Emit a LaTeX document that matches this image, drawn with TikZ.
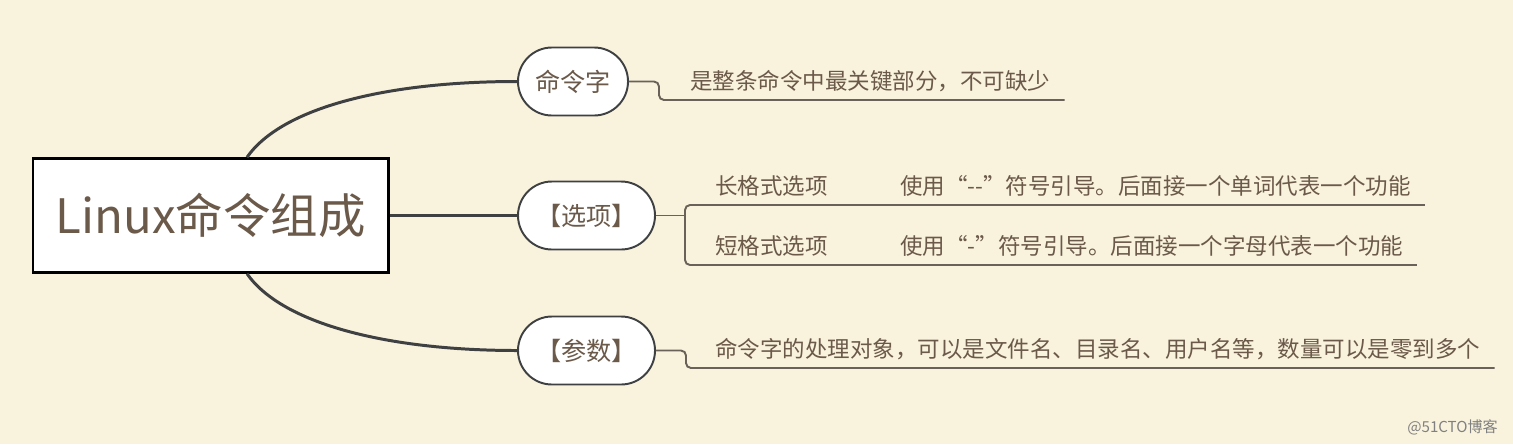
\documentclass[tikz,border=0pt]{standalone}
\usepackage{fontspec}
\setmainfont{Noto Sans CJK SC}
\usepackage{tikz}
\usetikzlibrary{positioning,calc}
\definecolor{paper}{RGB}{249,243,221}
\definecolor{txt}{RGB}{107,89,73}
\definecolor{branchc}{RGB}{62,64,66}
\definecolor{leafc}{RGB}{106,98,88}
\tikzstyle{root} = [draw=black,line width=1.7pt,fill=white,text=txt,minimum width=7.1cm,minimum height=2.27cm,font=\fontsize{27}{32}\selectfont]
\tikzstyle{pill} = [draw=branchc,line width=1.1pt,fill=white,text=txt,rounded corners=0.68cm,minimum height=1.36cm,font=\fontsize{14.3}{17}\selectfont]
\tikzstyle{desc} = [text=txt,anchor=south west,inner xsep=0.28cm,inner ysep=0.16cm,font=\fontsize{12.8}{15}\selectfont]
\tikzstyle{branch} = [draw=branchc,line width=1.7pt]
\tikzstyle{leaf} = [draw=leafc,line width=1.1pt,rounded corners=0.1cm]

\begin{document}
\begin{tikzpicture}
	\fill[paper] (0,0) rectangle (30.26,-8.88);
	\useasboundingbox (0,0) rectangle (30.26,-8.88);
	\node[root] (root) at (4.21,-4.31) {Linux命令组成};
	\node[pill,minimum width=2.2cm] (cmd) at (11.46,-1.63) {命令字};
	\node[pill,minimum width=2.74cm] (opt) at (11.73,-4.31) {【选项】};
	\node[pill,minimum width=2.74cm] (par) at (11.73,-7.01) {【参数】};
	\draw[branch] ([xshift=0.73cm]root.north) .. controls +(0.7,1.0) and +(-2.6,0) .. (cmd.west);
	\draw[branch] (root.east) -- (opt.west);
	\draw[branch] ([xshift=0.73cm]root.south) .. controls +(0.7,-1.0) and +(-2.6,0) .. (par.west);
	% 命令字
	\node[desc] (d1) at (13.52,-2.0) {是整条命令中最关键部分，不可缺少};
	\draw[leaf] (cmd.east) -- ++(0.6,0) |- (d1.south east);
	% 选项
	\node[desc,inner xsep=0.6cm] (lopt) at (13.7,-4.1) {长格式选项};
	\node[desc,inner xsep=0.6cm] (sopt) at (13.7,-5.3) {短格式选项};
	\node[desc] (ldesc) at (17.72,-4.1) {使用“-{}-”符号引导。后面接一个单词代表一个功能};
	\node[desc] (sdesc) at (17.72,-5.3) {使用“-”符号引导。后面接一个字母代表一个功能};
	\draw[leaf] (opt.east) -- (opt.east -| lopt.south west);
	\draw[leaf] (lopt.south east) -- (lopt.south west) -- (sopt.south west) -- (sopt.south east);
	\draw[leaf] (lopt.south east) -- (ldesc.south east);
	\draw[leaf] (sopt.south east) -- (sdesc.south east);
	% 参数
	\node[desc] (pdesc) at (14.02,-7.36) {命令字的处理对象，可以是文件名、目录名、用户名等，数量可以是零到多个};
	\draw[leaf] (par.east) -- ++(0.6,0) |- (pdesc.south east);
	\node[anchor=east,text=gray,font=\fontsize{8.6}{10}\selectfont] (mark) at (30.08,-8.55) {@51CTO博客};
\end{tikzpicture}
\end{document}
